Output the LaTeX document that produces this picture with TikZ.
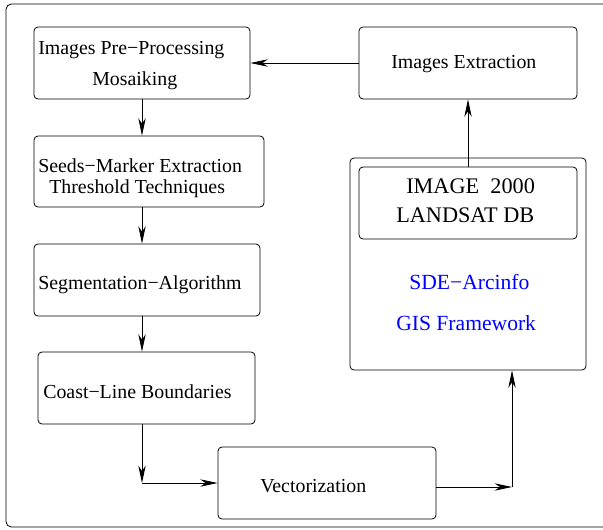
\documentclass[tikz,border=0pt]{standalone}
\usepackage{fontspec}
\setmainfont{Liberation Serif}
\usepackage{tikz}
\usetikzlibrary{positioning, arrows.meta, calc}

\def\raster{0.75pt}

\tikzset{
    stage/.style={draw, rounded corners=3pt, line width=0.6pt, inner sep=0pt},
    stagetext/.style={anchor=base west, inner sep=0pt, font=\fontsize{14.9}{18}\selectfont},
    dbtext/.style={anchor=base west, inner sep=0pt, font=\fontsize{16.7}{20}\selectfont},
    gistext/.style={anchor=base west, inner sep=0pt, blue, font=\fontsize{16.2}{19}\selectfont},
    flow/.style={line width=0.6pt, -{Stealth[length=13pt, width=5.5pt, inset=4pt]}},
}

\begin{document}
\begin{tikzpicture}[x=\raster, y=-\raster]
    \useasboundingbox (0,0) rectangle (603,529);

    % frame
    \begin{scope}
        \clip (0,0) rectangle (603,529);
        \draw[line width=0.6pt, rounded corners=4pt] (6,4) rectangle (620,527);
    \end{scope}

    % boxes
    \foreach \name/\cx/\cy/\w/\h in {
        pre/142/63/216/72,
        seeds/149/171.5/230/71,
        seg/147/280/226/72,
        coast/146.5/388/217/72,
        vect/327/483/218/72,
        extr/468/63/218/72,
        gis/468/264/236/212,
        db/468/203/218/72}
    {
        \node[stage, minimum width=\w*\raster, minimum height=\h*\raster] (\name) at (\cx,\cy) {};
    }

    % texts
    \node[stagetext] (t-pre)    at (38,54)  {Images Pre−Processing};
    \node[stagetext] (t-mos)    at (92,85)  {Mosaiking};
    \node[stagetext] (t-seeds)  at (38,172) {Seeds−Marker Extraction};
    \node[stagetext] (t-thr)    at (49,193) {Threshold Techniques};
    \node[stagetext] (t-seg)    at (38,289) {Segmentation−Algorithm};
    \node[stagetext] (t-coast)  at (43,398) {Coast−Line Boundaries};
    \node[stagetext] (t-vect)   at (260,492) {Vectorization};
    \node[stagetext] (t-extr)   at (391,68) {Images Extraction};
    \node[dbtext]    (t-img)    at (406,193) {IMAGE\ \ 2000};
    \node[dbtext]    (t-land)   at (396,222) {LANDSAT DB};
    \node[gistext]   (t-sde)    at (409,289) {SDE−Arcinfo};
    \node[gistext]   (t-gis)    at (396,330) {GIS Framework};

    % bends
    \coordinate (bend1) at (142,483);
    \coordinate (bend2) at (512,487);

    % connectors
    \draw[flow] (extr.west) -- (pre.east);
    \draw[flow] (pre.south) -- (pre.south |- seeds.north);
    \draw[flow] (pre.south |- seeds.south) -- (pre.south |- seg.north);
    \draw[flow] (pre.south |- seg.south) -- (pre.south |- coast.north);
    \draw[flow] (pre.south |- coast.south) -- (bend1);
    \draw[flow] (bend1) -- (vect.west);
    \draw[flow] (vect.east |- bend2) -- (bend2);
    \draw[flow] (bend2) -- (bend2 |- gis.south);
    \draw[flow] (db.north) -- (extr.south);
\end{tikzpicture}
\end{document}
